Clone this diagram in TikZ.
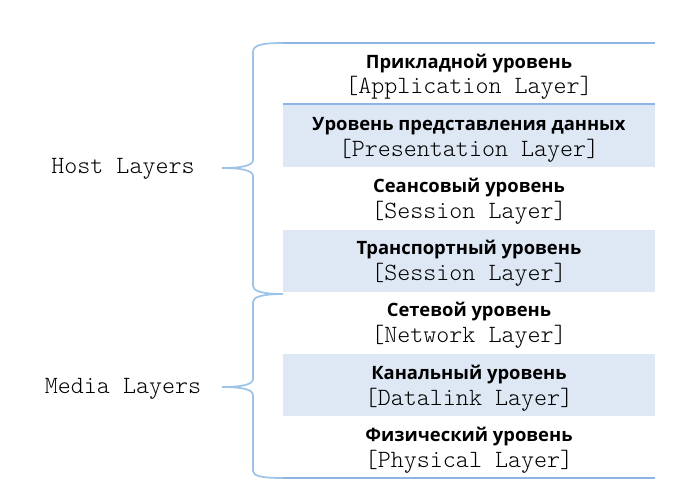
\documentclass[tikz,border=0pt]{standalone}
\usepackage{fontspec}
\newfontfamily\titlefont{Open Sans}
\newfontfamily\monofont{Latin Modern Mono Light}
\definecolor{rowfill}{HTML}{DEE8F4}
\definecolor{lineblue}{HTML}{8DB4E2}
\definecolor{braceblue}{HTML}{9DC3E6}
\begin{document}
\begin{tikzpicture}[x=0.75pt,y=-0.75pt,
  title/.style={font=\titlefont\bfseries\fontsize{13.8}{16}\selectfont, inner sep=0pt, anchor=center},
  sub/.style={font=\monofont\fontsize{18.6}{20}\selectfont, inner sep=0pt, anchor=center},
  side/.style={font=\monofont\fontsize{18.6}{20}\selectfont, inner sep=0pt, anchor=center},
  sep/.style={draw=lineblue, line width=1.2pt},
  brace/.style={draw=braceblue, line width=1.3pt}]
\useasboundingbox (0,0) rectangle (680,490);
% shaded rows
\fill[rowfill] (283,105) rectangle (655,167);
\fill[rowfill] (283,230) rectangle (655,292);
\fill[rowfill] (283,354) rectangle (655,416);
% lines
\draw[sep] (283,43) -- (655,43);
\draw[sep] (283,104) -- (655,104);
\draw[sep] (283,478) -- (655,478);
% rows
\node[title] (t1) at (469,64) {Прикладной уровень};
\node[sub]   (s1) at (469,88) {[Application Layer]};
\node[title] (t2) at (469,126) {Уровень представления данных};
\node[sub]   (s2) at (469,151) {[Presentation Layer]};
\node[title] (t3) at (469,188) {Сеансовый уровень};
\node[sub]   (s3) at (469,213) {[Session Layer]};
\node[title] (t4) at (469,250) {Транспортный уровень};
\node[sub]   (s4) at (469,275) {[Session Layer]};
\node[title] (t5) at (469,312) {Сетевой уровень};
\node[sub]   (s5) at (469,337) {[Network Layer]};
\node[title] (t6) at (469,375) {Канальный уровень};
\node[sub]   (s6) at (469,400) {[Datalink Layer]};
\node[title] (t7) at (469,437) {Физический уровень};
\node[sub]   (s7) at (469,462) {[Physical Layer]};
% side labels
\node[side] (host) at (123,169) {Host Layers};
\node[side] (media) at (123,389) {Media Layers};
% braces
\draw[brace] (283,43) .. controls (262,43) and (253,45) .. (253,52) -- (253,160)
  .. controls (253,166) and (240,168) .. (222,168)
  .. controls (240,168) and (253,170) .. (253,176) -- (253,286)
  .. controls (253,291) and (262,294) .. (283,294);
\draw[brace] (283,294) .. controls (262,294) and (253,297) .. (253,302) -- (253,379)
  .. controls (253,385) and (240,387) .. (222,387)
  .. controls (240,387) and (253,389) .. (253,395) -- (253,471)
  .. controls (253,476) and (262,478) .. (283,478);
\end{tikzpicture}
\end{document}
